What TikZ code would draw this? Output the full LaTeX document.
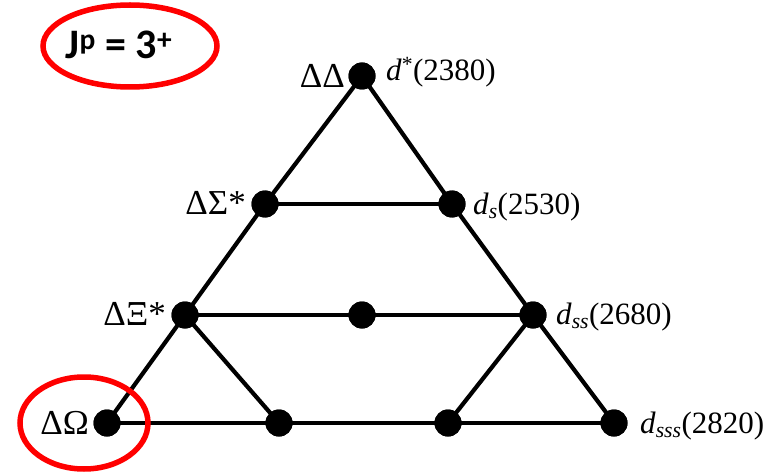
\documentclass[tikz,border=0pt]{standalone}
\usepackage{fontspec}
\setmainfont{Liberation Serif}
\newfontfamily\calib{Carlito}
\begin{document}
\begin{tikzpicture}[x=1pt,y=-1pt,
  dot/.style={circle,fill=black,inner sep=0pt,minimum size=27pt},
  edge/.style={line width=4.2pt,black},
  glabel/.style={font=\fontsize{35}{38}\selectfont,inner sep=0pt},
  dlabel/.style={font=\fontsize{31}{34}\selectfont,inner sep=0pt},
  redring/.style={draw=red,line width=5.5pt}]
\useasboundingbox (0,0) rectangle (776,473);
% nodes
\node[dot] (a) at (362,76) {};
\node[dot] (b1) at (265,204) {};
\node[dot] (b2) at (452,204) {};
\node[dot] (c1) at (185,315) {};
\node[dot] (c2) at (362,315) {};
\node[dot] (c3) at (533,315) {};
\node[dot] (d1) at (107,423) {};
\node[dot] (d2) at (279,423) {};
\node[dot] (d3) at (448,423) {};
\node[dot] (d4) at (614,423) {};
% edges
\draw[edge] (a.center) -- (b1.center) -- (c1.center) -- (d1.center);
\draw[edge] (a.center) -- (b2.center) -- (c3.center) -- (d4.center);
\draw[edge] (b1.center) -- (b2.center);
\draw[edge] (c1.center) -- (c2.center) -- (c3.center);
\draw[edge] (d1.center) -- (d2.center) -- (d3.center) -- (d4.center);
\draw[edge] (c1.center) -- (d2.center);
\draw[edge] (c3.center) -- (d3.center);
% redraw dots on top
\foreach \n in {a,b1,b2,c1,c2,c3,d1,d2,d3,d4} \fill (\n) circle (13.5pt);
% labels
\node[glabel,anchor=east] (la) at (345,76) {ΔΔ};
\node[glabel,anchor=east] (lb) at (246,203) {ΔΣ*};
\node[glabel,anchor=east] (lc) at (166,314) {ΔΞ*};
\node[glabel,anchor=east] (ld) at (89,423) {ΔΩ};
\node[dlabel,anchor=west] (ra) at (386,72) {\textit{d}\textsuperscript{*}(2380)};
\node[dlabel,anchor=west] (rb) at (473,207) {\textit{d}\textsubscript{\textit{s}}(2530)};
\node[dlabel,anchor=west] (rc) at (556,317) {\textit{d}\textsubscript{\textit{ss}}(2680)};
\node[dlabel,anchor=west] (rd) at (640,426) {\textit{d}\textsubscript{\textit{sss}}(2820)};
% J^p label
\node[font=\calib\bfseries\fontsize{42}{45}\selectfont,inner sep=0pt] (jp) at (119,45) {J\textsuperscript{p} = 3\textsuperscript{+}};
\draw[redring] (130,46) ellipse (87pt and 41pt);
\draw[redring] (84,423) ellipse (64pt and 46pt);
\end{tikzpicture}
\end{document}
